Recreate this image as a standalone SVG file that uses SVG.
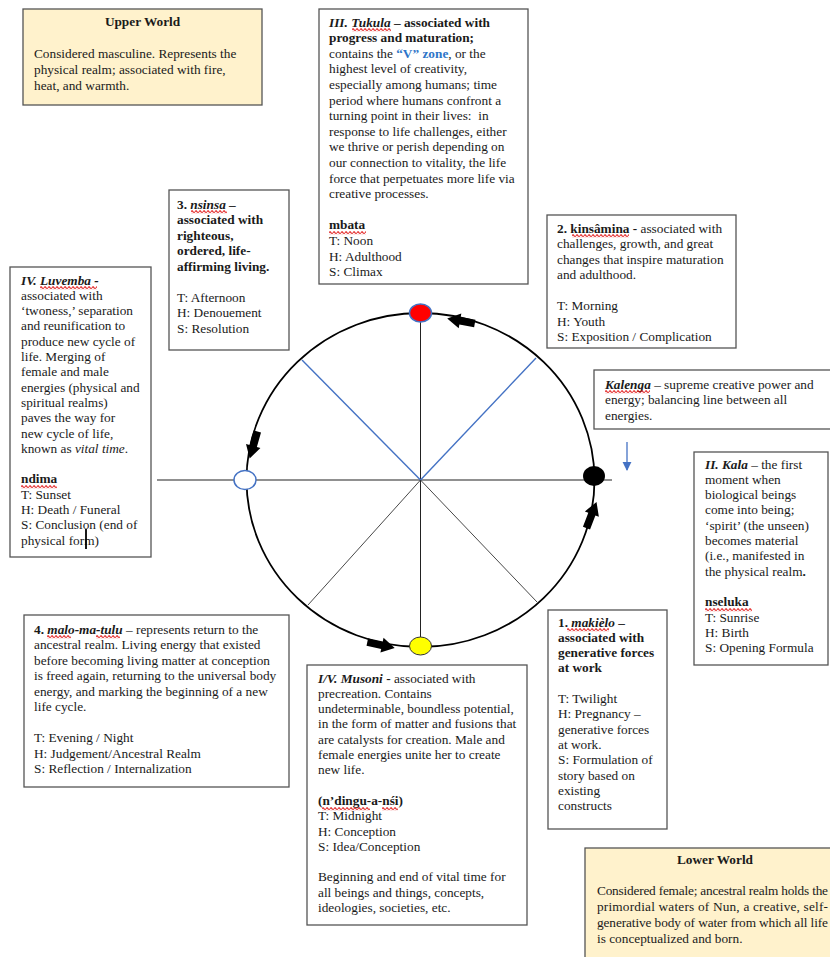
<svg xmlns="http://www.w3.org/2000/svg" width="830" height="957" viewBox="0 0 830 957">
<style>
.t{font-family:"Liberation Serif","Times New Roman",serif;font-size:13.3px;fill:#1a1a1a}
.b{font-weight:bold}
.i{font-style:italic}
.bi{font-weight:bold;font-style:italic}
.box{fill:#fff;stroke:#555;stroke-width:1.3}
.yb{fill:#fff2cc;stroke:#555;stroke-width:1.3}
.blue{fill:#2e75c8;font-weight:bold}
.wave{fill:url(#wv)}
.fat{fill:#000}
</style>
<defs>
<pattern id="wv" width="4" height="3.4" patternUnits="userSpaceOnUse">
<path d="M0 1.7 Q1 0 2 1.7 T4 1.7" fill="none" stroke="#e01010" stroke-width="1.1"/>
</pattern>
<path id="barrow" d="M-14,-3.8 L1,-3.8 L1,-7.5 L14,0 L1,7.5 L1,3.8 L-14,3.8 Z"/>
<marker id="bluehead" viewBox="0 0 10 10" refX="9" refY="5" markerWidth="7" markerHeight="7" orient="auto">
<path d="M0,0 L10,5 L0,10 Z" fill="#4472c4"/>
</marker>
</defs>
<rect width="830" height="957" fill="#fff"/>

<g id="connectors">
<ellipse cx="420.5" cy="480" rx="174" ry="167" fill="none" stroke="#000" stroke-width="1.8"/>
<line x1="157" y1="480" x2="612" y2="480" stroke="#222" stroke-width="1.1"/>
<line x1="420.5" y1="313" x2="420.5" y2="646" stroke="#222" stroke-width="1"/>
<line x1="420.5" y1="480" x2="302" y2="360" stroke="#4472c4" stroke-width="1.4"/>
<line x1="420.5" y1="480" x2="536" y2="358" stroke="#4472c4" stroke-width="1.4"/>
<line x1="420.5" y1="480" x2="308" y2="605" stroke="#333" stroke-width="0.9"/>
<line x1="420.5" y1="480" x2="537" y2="602" stroke="#333" stroke-width="0.9"/>
<use href="#barrow" class="fat" transform="translate(461,321) rotate(190)"/>
<use href="#barrow" class="fat" transform="translate(253.5,445) rotate(106)"/>
<use href="#barrow" class="fat" transform="translate(381,645) rotate(12)"/>
<use href="#barrow" class="fat" transform="translate(591.5,515) rotate(-69)"/>
<line x1="627" y1="442" x2="627" y2="470" stroke="#4472c4" stroke-width="1.3" marker-end="url(#bluehead)"/>
</g>

<g id="dot-top"><ellipse cx="420.5" cy="313" rx="11" ry="9" fill="#ff0000" stroke="#4472c4" stroke-width="1.5"/></g>
<g id="dot-left"><ellipse cx="245" cy="480" rx="11" ry="9.5" fill="#fff" stroke="#4472c4" stroke-width="1.5"/></g>
<g id="dot-right"><ellipse cx="594" cy="476" rx="11" ry="10" fill="#000"/></g>
<g id="dot-bottom"><ellipse cx="420.5" cy="646" rx="11" ry="9" fill="#ffff00" stroke="#333" stroke-width="1"/></g>

<g id="upper-world">
<rect x="23" y="9" width="239" height="96" class="yb"/>
<text x="142.5" y="26" class="t b" text-anchor="middle">Upper World</text>
<text x="34" y="57.5" class="t">Considered masculine. Represents the</text>
<text x="34" y="74" class="t">physical realm; associated with fire,</text>
<text x="34" y="90" class="t">heat, and warmth.</text>
</g>

<g id="tukula">
<rect x="319" y="9" width="209" height="275" class="box"/>
<text x="329" y="26.5" class="t b"><tspan class="bi">III. Tukula</tspan> – associated with</text>
<text x="329" y="42.1" class="t b">progress and maturation;</text>
<text x="329" y="57.7" class="t">contains the <tspan class="blue">“V” zone</tspan>, or the</text>
<text x="329" y="73.3" class="t">highest level of creativity,</text>
<text x="329" y="88.9" class="t">especially among humans; time</text>
<text x="329" y="104.5" class="t">period where humans confront a</text>
<text x="329" y="120.1" class="t" xml:space="preserve">turning point in their lives:  in</text>
<text x="329" y="135.7" class="t">response to life challenges, either</text>
<text x="329" y="151.3" class="t">we thrive or perish depending on</text>
<text x="329" y="166.9" class="t">our connection to vitality, the life</text>
<text x="329" y="182.5" class="t">force that perpetuates more life via</text>
<text x="329" y="198.1" class="t">creative processes.</text>
<text x="329" y="229.3" class="t b">mbata</text>
<text x="329" y="244.9" class="t">T: Noon</text>
<text x="329" y="260.5" class="t">H: Adulthood</text>
<text x="329" y="276.1" class="t">S: Climax</text>
<rect class="wave" x="0" y="0" width="39" height="3.4" transform="translate(352,28)"/>
<rect class="wave" x="0" y="0" width="37" height="3.4" transform="translate(329,231)"/>
</g>

<g id="nsinsa">
<rect x="169" y="190" width="120" height="160" class="box"/>
<text x="177" y="208.5" class="t b">3. <tspan class="bi">nsinsa</tspan> –</text>
<text x="177" y="224" class="t b">associated with</text>
<text x="177" y="239.5" class="t b">righteous,</text>
<text x="177" y="255" class="t b">ordered, life-</text>
<text x="177" y="270.5" class="t b">affirming living.</text>
<text x="177" y="301.5" class="t">T: Afternoon</text>
<text x="177" y="317" class="t">H: Denouement</text>
<text x="177" y="332.5" class="t">S: Resolution</text>
<rect class="wave" x="0" y="0" width="36" height="3.4" transform="translate(191,210)"/>
</g>

<g id="kinsamina">
<rect x="547" y="215" width="189" height="133" class="box"/>
<text x="557" y="232.5" class="t"><tspan class="b">2. kinsâmina -</tspan> associated with</text>
<text x="557" y="248" class="t">challenges, growth, and great</text>
<text x="557" y="263.5" class="t">changes that inspire maturation</text>
<text x="557" y="279" class="t">and adulthood.</text>
<text x="557" y="310" class="t">T: Morning</text>
<text x="557" y="325.5" class="t">H: Youth</text>
<text x="557" y="341" class="t">S: Exposition / Complication</text>
<rect class="wave" x="0" y="0" width="57" height="3.4" transform="translate(572,234)"/>
</g>

<g id="luvemba">
<rect x="10" y="267" width="141" height="290" class="box"/>
<text x="21" y="284.5" class="t bi">IV. Luvemba -</text>
<text x="21" y="299.8" class="t">associated with</text>
<text x="21" y="315.1" class="t">‘twoness,’ separation</text>
<text x="21" y="330.4" class="t">and reunification to</text>
<text x="21" y="345.7" class="t">produce new cycle of</text>
<text x="21" y="361" class="t">life. Merging of</text>
<text x="21" y="376.3" class="t">female and male</text>
<text x="21" y="391.6" class="t">energies (physical and</text>
<text x="21" y="406.9" class="t">spiritual realms)</text>
<text x="21" y="422.2" class="t">paves the way for</text>
<text x="21" y="437.5" class="t">new cycle of life,</text>
<text x="21" y="452.8" class="t">known as <tspan class="i">vital time</tspan>.</text>
<text x="21" y="483.4" class="t b">ndima</text>
<text x="21" y="498.7" class="t">T: Sunset</text>
<text x="21" y="514" class="t">H: Death / Funeral</text>
<text x="21" y="529.3" class="t">S: Conclusion (end of</text>
<text x="21" y="544.6" class="t">physical form)</text>
<line x1="86" y1="529" x2="86" y2="549" stroke="#000" stroke-width="1.8"/>
<rect class="wave" x="0" y="0" width="57" height="3.4" transform="translate(40,286)"/>
<rect class="wave" x="0" y="0" width="36" height="3.4" transform="translate(21,485)"/>
</g>

<g id="kalenga">
<rect x="594" y="370" width="240" height="59" class="box"/>
<text x="605" y="388.5" class="t"><tspan class="bi">Kalenga</tspan> – supreme creative power and</text>
<text x="605" y="404" class="t">energy; balancing line between all</text>
<text x="605" y="419.5" class="t">energies.</text>
<rect class="wave" x="0" y="0" width="45" height="3.4" transform="translate(605,390)"/>
</g>

<g id="kala">
<rect x="694" y="452" width="134" height="213" class="box"/>
<text x="705" y="468.5" class="t"><tspan class="bi">II. Kala</tspan> – the first</text>
<text x="705" y="483.8" class="t">moment when</text>
<text x="705" y="499.1" class="t">biological beings</text>
<text x="705" y="514.4" class="t">come into being;</text>
<text x="705" y="529.7" class="t">‘spirit’ (the unseen)</text>
<text x="705" y="545" class="t">becomes material</text>
<text x="705" y="560.3" class="t">(i.e., manifested in</text>
<text x="705" y="575.6" class="t">the physical realm<tspan class="b">.</tspan></text>
<text x="705" y="606.2" class="t b">nseluka</text>
<text x="705" y="621.5" class="t">T: Sunrise</text>
<text x="705" y="636.8" class="t">H: Birth</text>
<text x="705" y="652.1" class="t">S: Opening Formula</text>
<rect class="wave" x="0" y="0" width="47" height="3.4" transform="translate(705,608)"/>
</g>

<g id="malo-ma-tulu">
<rect x="24" y="615" width="265" height="172" class="box"/>
<text x="34" y="633.5" class="t"><tspan class="b">4. </tspan><tspan class="bi">malo-ma-tulu</tspan> – represents return to the</text>
<text x="34" y="649" class="t">ancestral realm. Living energy that existed</text>
<text x="34" y="664.5" class="t">before becoming living matter at conception</text>
<text x="34" y="680" class="t">is freed again, returning to the universal body</text>
<text x="34" y="695.5" class="t">energy, and marking the beginning of a new</text>
<text x="34" y="711" class="t">life cycle.</text>
<text x="34" y="742" class="t">T: Evening / Night</text>
<text x="34" y="757.5" class="t">H: Judgement/Ancestral Realm</text>
<text x="34" y="773" class="t">S: Reflection / Internalization</text>
<rect class="wave" x="0" y="0" width="24" height="3.4" transform="translate(47,635)"/>
<rect class="wave" x="0" y="0" width="24" height="3.4" transform="translate(96,635)"/>
</g>

<g id="musoni">
<rect x="307" y="665" width="220" height="260" class="box"/>
<text x="318" y="682.5" class="t"><tspan class="bi">I/V. Musoni</tspan><tspan class="b"> -</tspan> associated with</text>
<text x="318" y="697.8" class="t">precreation. Contains</text>
<text x="318" y="713.1" class="t">undeterminable, boundless potential,</text>
<text x="318" y="728.4" class="t">in the form of matter and fusions that</text>
<text x="318" y="743.7" class="t">are catalysts for creation. Male and</text>
<text x="318" y="759" class="t">female energies unite her to create</text>
<text x="318" y="774.3" class="t">new life.</text>
<text x="318" y="804.9" class="t b">(n’dingu-a-nśi)</text>
<text x="318" y="820.2" class="t">T: Midnight</text>
<text x="318" y="835.5" class="t">H: Conception</text>
<text x="318" y="850.8" class="t">S: Idea/Conception</text>
<text x="318" y="881.4" class="t">Beginning and end of vital time for</text>
<text x="318" y="896.7" class="t">all beings and things, concepts,</text>
<text x="318" y="912" class="t">ideologies, societies, etc.</text>
<rect class="wave" x="0" y="0" width="48" height="3.4" transform="translate(322,807)"/>
<rect class="wave" x="0" y="0" width="16" height="3.4" transform="translate(382,807)"/>
</g>

<g id="makielo">
<rect x="548" y="610" width="119" height="219" class="box"/>
<text x="558" y="626.5" class="t b">1. <tspan class="bi">makièlo</tspan> –</text>
<text x="558" y="641.8" class="t b">associated with</text>
<text x="558" y="657.1" class="t b">generative forces</text>
<text x="558" y="672.4" class="t b">at work</text>
<text x="558" y="703" class="t">T: Twilight</text>
<text x="558" y="718.3" class="t">H: Pregnancy –</text>
<text x="558" y="733.6" class="t">generative forces</text>
<text x="558" y="748.9" class="t">at work.</text>
<text x="558" y="764.2" class="t">S: Formulation of</text>
<text x="558" y="779.5" class="t">story based on</text>
<text x="558" y="794.8" class="t">existing</text>
<text x="558" y="810.1" class="t">constructs</text>
<rect class="wave" x="0" y="0" width="42" height="3.4" transform="translate(567,628)"/>
</g>

<g id="lower-world">
<rect x="585" y="848" width="250" height="115" class="yb"/>
<text x="715" y="863.5" class="t b" text-anchor="middle">Lower World</text>
<text x="597" y="894.5" class="t" textLength="231">Considered female; ancestral realm holds the</text>
<text x="597" y="910.5" class="t" textLength="231">primordial waters of Nun, a creative, self-</text>
<text x="597" y="926.5" class="t" textLength="231">generative body of water from which all life</text>
<text x="597" y="942.5" class="t">is conceptualized and born.</text>
</g>
</svg>
